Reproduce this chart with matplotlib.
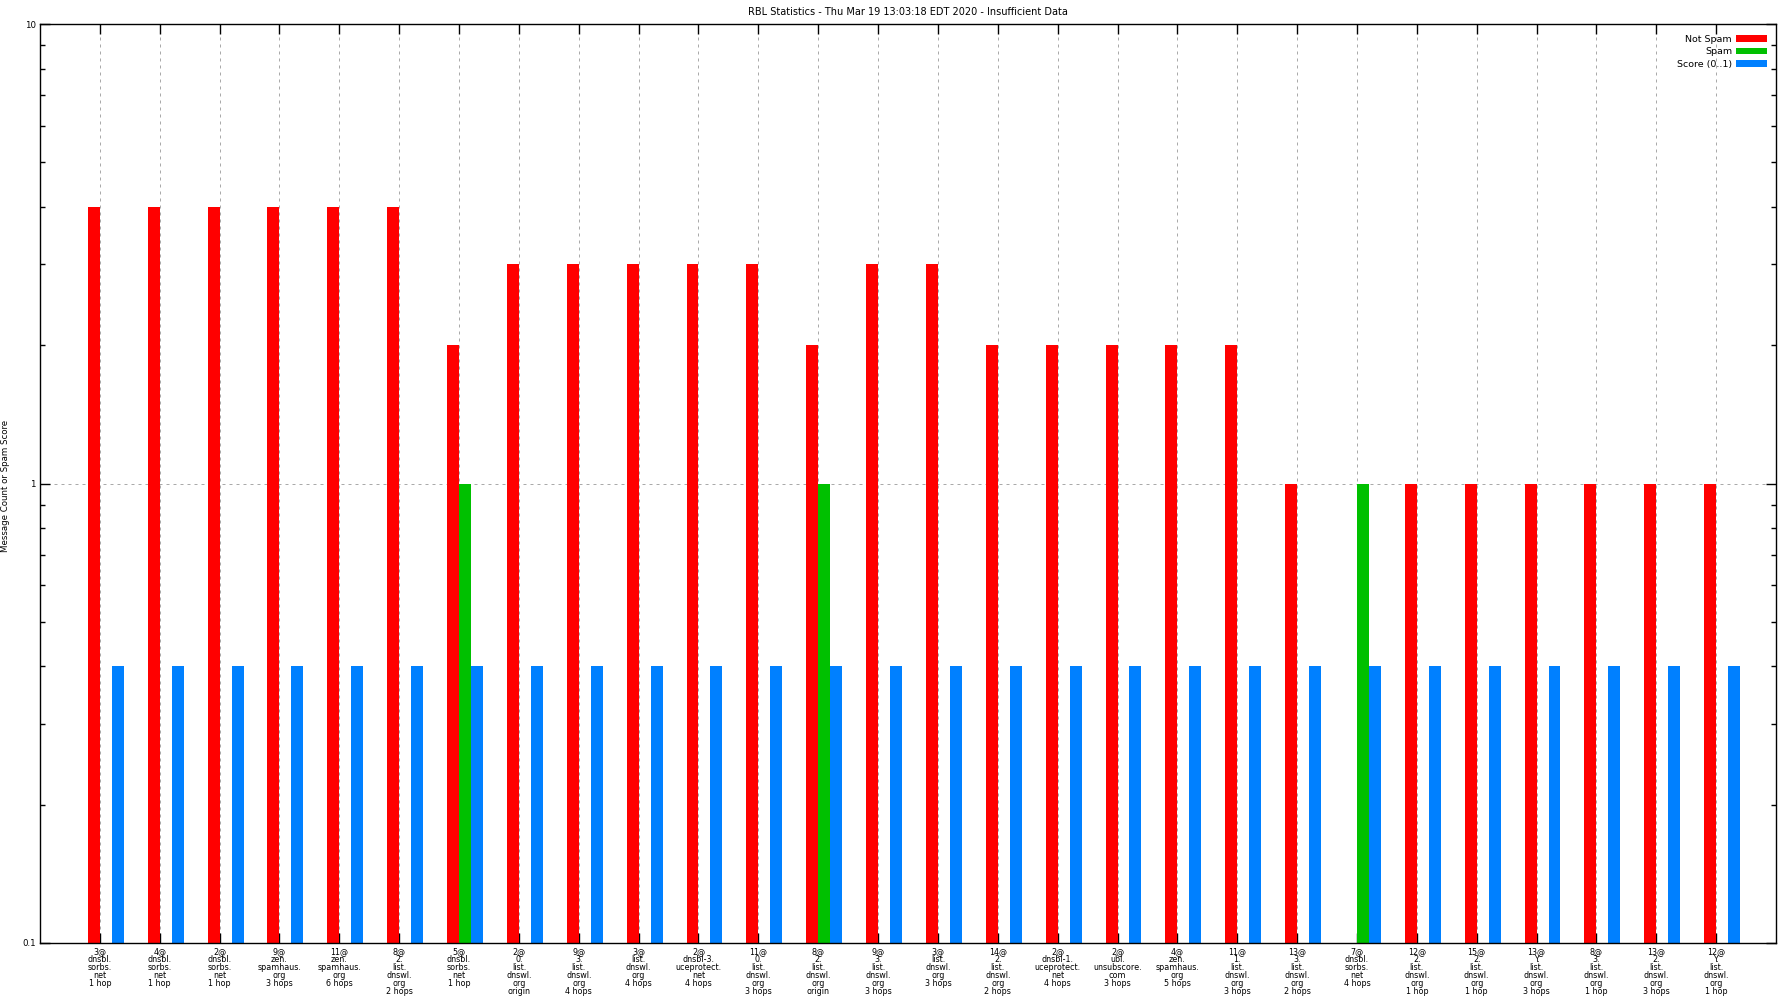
import matplotlib
matplotlib.use("Agg")
import matplotlib.pyplot as plt
from matplotlib.ticker import LogLocator, FixedLocator, FuncFormatter, NullFormatter
import numpy as np

title = "RBL Statistics - Thu Mar 19 13:03:18 EDT 2020 - Insufficient Data"
ylabel = "Message Count or Spam Score"

labels = [
    "3@\ndnsbl.\nsorbs.\nnet\n1 hop",
    "4@\ndnsbl.\nsorbs.\nnet\n1 hop",
    "2@\ndnsbl.\nsorbs.\nnet\n1 hop",
    "9@\nzen.\nspamhaus.\norg\n3 hops",
    "11@\nzen.\nspamhaus.\norg\n6 hops",
    "8@\n2.\nlist.\ndnswl.\norg\n2 hops",
    "5@\ndnsbl.\nsorbs.\nnet\n1 hop",
    "2@\n0.\nlist.\ndnswl.\norg\norigin",
    "9@\n3.\nlist.\ndnswl.\norg\n4 hops",
    "3@\nlist.\ndnswl.\norg\n4 hops",
    "2@\ndnsbl-3.\nuceprotect.\nnet\n4 hops",
    "11@\n0.\nlist.\ndnswl.\norg\n3 hops",
    "8@\n2.\nlist.\ndnswl.\norg\norigin",
    "9@\n3.\nlist.\ndnswl.\norg\n3 hops",
    "3@\nlist.\ndnswl.\norg\n3 hops",
    "14@\n2.\nlist.\ndnswl.\norg\n2 hops",
    "2@\ndnsbl-1.\nuceprotect.\nnet\n4 hops",
    "2@\nubl.\nunsubscore.\ncom\n3 hops",
    "4@\nzen.\nspamhaus.\norg\n5 hops",
    "11@\n1.\nlist.\ndnswl.\norg\n3 hops",
    "13@\n3.\nlist.\ndnswl.\norg\n2 hops",
    "7@\ndnsbl.\nsorbs.\nnet\n4 hops",
    "12@\n2.\nlist.\ndnswl.\norg\n1 hop",
    "15@\n2.\nlist.\ndnswl.\norg\n1 hop",
    "13@\nY.\nlist.\ndnswl.\norg\n3 hops",
    "8@\n3.\nlist.\ndnswl.\norg\n1 hop",
    "13@\n2.\nlist.\ndnswl.\norg\n3 hops",
    "12@\nY.\nlist.\ndnswl.\norg\n1 hop",
]

not_spam = [4, 4, 4, 4, 4, 4, 2, 3, 3, 3, 3, 3, 2, 3, 3, 2, 2, 2, 2, 2, 1, 0, 1, 1, 1, 1, 1, 1]
spam     = [0, 0, 0, 0, 0, 0, 1, 0, 0, 0, 0, 0, 1, 0, 0, 0, 0, 0, 0, 0, 0, 1, 0, 0, 0, 0, 0, 0]
score    = [0.4, 0.4, 0.4, 0.4, 0.4, 0.4, 0.4, 0.4, 0.4, 0.4, 0.4, 0.4, 0.4, 0.4,
            0.4, 0.4, 0.4, 0.4, 0.4, 0.4, 0.4, 0.4, 0.4, 0.4, 0.4, 0.4, 0.4, 0.4]

series_names = ["Not Spam", "Spam", "Score (0..1)"]
colors = ["#ff0000", "#00c000", "#0080ff"]

FONT = "DejaVu Sans"
FS_TICK = 5.8
FS_TITLE = 7.0
FS_LEG = 6.8
FS_YLAB = 6.2

W, H = 1792, 1008
fig = plt.figure(figsize=(W / 100, H / 100), dpi=100)
ax = fig.add_axes([40 / W, (H - 943) / H, 1736 / W, 919 / H])

ax.set_yscale("log")
x = np.arange(len(labels))
bw = 0.2
# red [t-0.2,t], green [t,t+0.2], blue [t+0.2,t+0.4]
for i, (vals, c, name) in enumerate(zip([not_spam, spam, score], colors, series_names)):
    ax.bar(x + (i - 1) * bw, vals, width=bw, color=c, align="edge",
           label=name, zorder=3, linewidth=0)

ax.set_xlim(-1, 28)
ax.set_ylim(0.1, 10)

ax.xaxis.set_major_locator(FixedLocator(x))
ax.set_xticklabels(labels, fontsize=FS_TICK, family=FONT, linespacing=0.85)
ax.yaxis.set_major_locator(FixedLocator([0.1, 1, 10]))
ax.yaxis.set_major_formatter(FuncFormatter(lambda v, p: "%g" % v))
ax.yaxis.set_minor_locator(LogLocator(base=10, subs=np.arange(2, 10)))
ax.yaxis.set_minor_formatter(NullFormatter())

ax.tick_params(axis="both", which="major", direction="in", length=7.5, width=1,
               top=True, right=True, labelsize=FS_TICK, pad=3)
ax.tick_params(axis="y", which="major", labelsize=6.2)
ax.tick_params(axis="both", which="minor", direction="in", length=3.8, width=1,
               top=True, right=True)
ax.tick_params(axis="x", which="minor", bottom=False, top=False)
for lab in ax.get_yticklabels():
    lab.set_family(FONT)

ax.grid(True, which="major", axis="both", color="#aaaaaa", linestyle=(0, (3, 4)),
        linewidth=0.72, zorder=0)
ax.set_axisbelow(True)
for s in ax.spines.values():
    s.set_linewidth(1.0)
    s.set_zorder(5)

fig.text((40 + 1776) / 2 / W, 1 - 12 / H, title, ha="center", va="center",
         fontsize=FS_TITLE, family=FONT)
fig.text(6 / W, 1 - 486 / H, ylabel, rotation=90, ha="center", va="center",
         fontsize=FS_YLAB, family=FONT)

leg = ax.legend(loc="upper right", bbox_to_anchor=(1 - 9 / 1736, 1 - 11 / 919),
                frameon=False, markerfirst=False, prop={"family": FONT, "size": FS_LEG},
                handlelength=3.3, handleheight=0.75, labelspacing=0.35,
                borderpad=0, borderaxespad=0, handletextpad=0.4)

fig.savefig("out.png", dpi=100)
